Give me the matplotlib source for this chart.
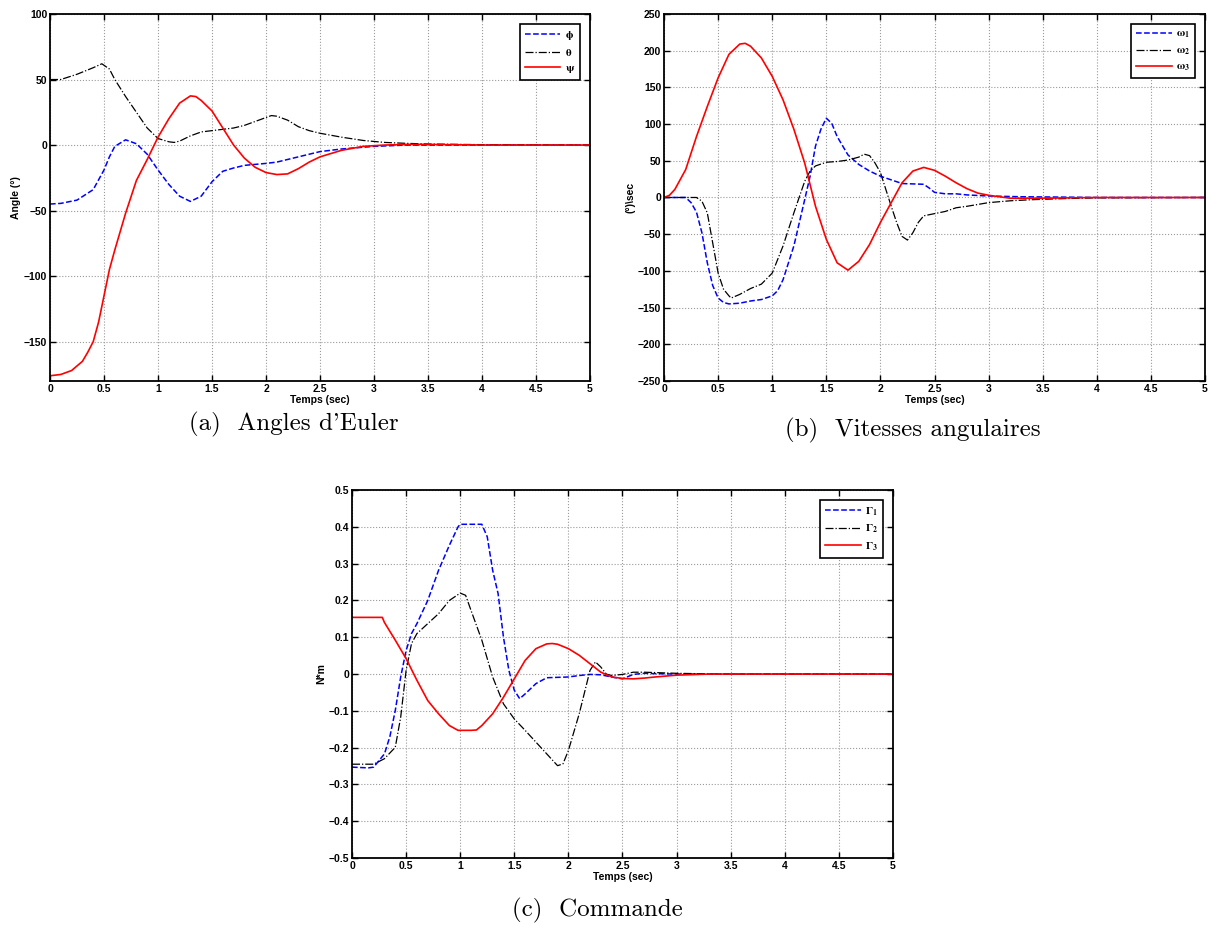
import numpy as np
import matplotlib.pyplot as plt

plt.rcParams['font.family'] = ['Liberation Sans', 'DejaVu Sans']
plt.rcParams['font.weight'] = 'bold'
plt.rcParams['mathtext.fontset'] = 'stix'

# (a) angles d'Euler
t_phi = [0, 0.1, 0.25, 0.4, 0.5, 0.55, 0.6, 0.7, 0.8, 0.9, 1.0, 1.1, 1.2, 1.3, 1.4, 1.5,
         1.6, 1.7, 1.8, 2.0, 2.1, 2.3, 2.5, 2.7, 3.0, 3.3, 5]
phi = [-45, -44.5, -42, -34, -19, -9, -1, 4, 1, -7, -19, -30, -39, -43, -39, -28,
       -20, -17.5, -15.5, -14, -13, -9, -5, -3, -1, 0, 0]
t_theta = [0, 0.1, 0.25, 0.4, 0.48, 0.55, 0.6, 0.7, 0.8, 0.9, 1.0, 1.1, 1.15, 1.2, 1.3,
           1.4, 1.5, 1.7, 1.8, 1.9, 2.05, 2.1, 2.2, 2.3, 2.4, 2.5, 2.7, 2.9, 3.1, 3.3,
           3.5, 4.0, 5]
theta = [50, 50, 54, 59, 62, 58, 50, 37, 25, 13, 5, 2.5, 2, 3, 7,
         10, 11, 13, 15, 18, 22.5, 22, 19, 14, 11, 9, 6, 3.5, 2, 1.3,
         0.8, 0.3, 0]
t_psi = [0, 0.1, 0.2, 0.3, 0.35, 0.4, 0.45, 0.5, 0.55, 0.6, 0.7, 0.8, 0.9, 1.0, 1.1,
         1.2, 1.3, 1.35, 1.4, 1.5, 1.6, 1.7, 1.8, 1.9, 2.0, 2.1, 2.2, 2.3, 2.4, 2.5,
         2.7, 2.9, 3.1, 3.3, 3.5, 4.0, 5]
psi = [-176, -175, -172, -165, -158, -150, -135, -115, -95, -80, -52, -27, -11, 6, 20,
       32, 37.5, 37, 34, 26, 13, 0, -10, -17, -21, -22.5, -22, -18, -13, -9,
       -4, -1, 0, 0.5, 0.5, 0, 0]

# (b) vitesses angulaires
t_w1 = [0, 0.2, 0.25, 0.3, 0.35, 0.4, 0.45, 0.5, 0.55, 0.6, 0.7, 0.8, 0.9, 1.0, 1.05,
        1.1, 1.2, 1.3, 1.35, 1.4, 1.45, 1.5, 1.55, 1.6, 1.7, 1.8, 1.9, 2.0, 2.1, 2.2,
        2.3, 2.4, 2.45, 2.5, 2.6, 2.7, 2.8, 3.0, 3.3, 3.7, 4.0, 5]
w1 = [0, 0, -7, -20, -48, -89, -120, -137, -143, -145, -144, -141, -139, -134, -127,
      -112, -66, -3, 29, 70, 93, 108, 101, 83, 58, 45, 36, 29, 24, 19,
      18.5, 18, 13, 7, 5, 5, 3.5, 2, 1, 0.5, 0, 0]
t_w2 = [0, 0.3, 0.35, 0.4, 0.45, 0.5, 0.55, 0.6, 0.62, 0.7, 0.8, 0.9, 1.0, 1.1, 1.2,
        1.3, 1.35, 1.4, 1.5, 1.6, 1.7, 1.8, 1.85, 1.9, 1.95, 2.0, 2.05, 2.1, 2.15, 2.2,
        2.25, 2.3, 2.35, 2.4, 2.5, 2.6, 2.7, 2.8, 3.0, 3.2, 3.4, 3.7, 4.0, 5]
w2 = [0, 0, -5, -21, -62, -103, -125, -134, -137, -132, -124, -118, -103, -66, -21,
      22, 36, 43, 48, 49, 51, 55, 59, 57, 47, 34, 11, -12, -34, -53,
      -58, -48, -34, -25, -22, -19, -14, -12, -7, -4.5, -3, -1.5, -0.5, 0]
t_w3 = [0, 0.05, 0.1, 0.2, 0.3, 0.4, 0.5, 0.6, 0.7, 0.75, 0.8, 0.9, 1.0, 1.1, 1.2, 1.3,
        1.4, 1.5, 1.6, 1.7, 1.8, 1.9, 2.0, 2.1, 2.2, 2.3, 2.4, 2.5, 2.6, 2.7, 2.8,
        2.9, 3.0, 3.2, 3.5, 4.0, 5]
w3 = [0, 3, 11, 38, 83, 124, 163, 195, 209, 210, 206, 190, 165, 133, 93, 47,
      -12, -57, -89, -99, -87, -64, -34, -7, 20, 36, 41, 37, 29, 20, 12,
      6, 3, -1, -1, 0, 0]

# (c) commande
t_g1 = [0, 0.15, 0.2, 0.3, 0.35, 0.4, 0.45, 0.5, 0.55, 0.6, 0.7, 0.8, 0.9, 0.98, 1.0,
        1.2, 1.25, 1.3, 1.35, 1.4, 1.45, 1.5, 1.55, 1.6, 1.7, 1.8, 2.0, 2.1, 2.2, 2.3,
        2.4, 2.5, 2.6, 2.7, 2.8, 3.0, 5]
g1 = [-0.253, -0.255, -0.253, -0.217, -0.17, -0.099, -0.008, 0.064, 0.11, 0.137, 0.2,
      0.282, 0.35, 0.4, 0.407, 0.407, 0.373, 0.282, 0.219, 0.1, 0.01, -0.044, -0.067,
      -0.054, -0.026, -0.01, -0.008, -0.004, -0.001, -0.002, -0.008, -0.013, -0.001,
      0.002, 0.001, 0, 0]
t_g2 = [0, 0.2, 0.3, 0.4, 0.45, 0.5, 0.55, 0.6, 0.7, 0.8, 0.9, 1.0, 1.05, 1.1, 1.2,
        1.3, 1.4, 1.5, 1.6, 1.7, 1.8, 1.9, 1.95, 2.0, 2.1, 2.2, 2.25, 2.3, 2.35, 2.4,
        2.5, 2.6, 2.7, 2.8, 3.0, 3.2, 3.5, 5]
g2 = [-0.245, -0.245, -0.23, -0.199, -0.117, 0.01, 0.083, 0.11, 0.137, 0.164, 0.2,
      0.22, 0.214, 0.173, 0.092, -0.008, -0.081, -0.122, -0.153, -0.185, -0.217,
      -0.249, -0.244, -0.208, -0.108, 0.01, 0.033, 0.019, 0, -0.004, -0.001, 0.005,
      0.005, 0.004, 0.002, 0.001, 0, 0]
t_g3 = [0, 0.28, 0.3, 0.4, 0.5, 0.6, 0.7, 0.8, 0.9, 0.98, 1.1, 1.15, 1.2, 1.3, 1.4,
        1.5, 1.6, 1.7, 1.8, 1.85, 1.9, 2.0, 2.1, 2.2, 2.3, 2.4, 2.5, 2.6, 2.7, 2.8,
        3.0, 3.3, 5]
g3 = [0.154, 0.154, 0.14, 0.092, 0.042, -0.017, -0.072, -0.108, -0.14, -0.153, -0.153,
      -0.152, -0.14, -0.108, -0.063, -0.013, 0.037, 0.069, 0.082, 0.083, 0.081, 0.069,
      0.051, 0.028, 0.005, -0.008, -0.012, -0.013, -0.011, -0.008, -0.003, 0, 0]

xticks = np.arange(0, 5.01, 0.5)
xticklabels = ['0', '0.5', '1', '1.5', '2', '2.5', '3', '3.5', '4', '4.5', '5']


def style_axes(ax, ylim, yticks, ylabel):
    ax.set_xlim(0, 5)
    ax.set_ylim(*ylim)
    ax.set_xticks(xticks)
    ax.set_xticklabels(xticklabels)
    ax.set_yticks(yticks)
    ax.grid(True, linestyle=':', color='#9a9a9a', linewidth=0.8)
    ax.tick_params(direction='in', top=True, right=True, length=4, width=1,
                   labelsize=7.5, pad=2)
    for lab in ax.get_xticklabels() + ax.get_yticklabels():
        lab.set_fontweight('bold')
    for sp in ax.spines.values():
        sp.set_linewidth(1.3)
    ax.set_xlabel('Temps (sec)', fontsize=7.5, fontweight='bold', labelpad=1)
    ax.set_ylabel(ylabel, fontsize=7.5, fontweight='bold', labelpad=2)


def add_legend(ax):
    leg = ax.legend(loc='upper right', fontsize=8, handlelength=3.2, fancybox=False,
                    edgecolor='black', framealpha=1, borderaxespad=0.9,
                    labelspacing=0.45, handletextpad=0.4, borderpad=0.45)
    leg.get_frame().set_linewidth(1.2)


fig = plt.figure(figsize=(12.08, 9.25), dpi=100)

ax1 = fig.add_axes([0.0414, 0.5881, 0.447, 0.3968])
ax1.plot(t_phi, phi, '--', color='blue', lw=1.1, label=r'$\mathrm{\phi}$')
ax1.plot(t_theta, theta, '-.', color='black', lw=0.9, label=r'$\mathrm{\theta}$')
ax1.plot(t_psi, psi, '-', color='red', lw=1.2, label=r'$\mathrm{\psi}$')
style_axes(ax1, (-180, 100), [-150, -100, -50, 0, 50, 100], 'Angle (°)')
add_legend(ax1)

ax2 = fig.add_axes([0.5497, 0.5881, 0.4478, 0.3968])
ax2.plot(t_w1, w1, '--', color='blue', lw=1.1, label=r'$\mathrm{\omega_1}$')
ax2.plot(t_w2, w2, '-.', color='black', lw=0.9, label=r'$\mathrm{\omega_2}$')
ax2.plot(t_w3, w3, '-', color='red', lw=1.2, label=r'$\mathrm{\omega_3}$')
style_axes(ax2, (-250, 250), np.arange(-250, 251, 50), '(°)\\sec')
add_legend(ax2)

ax3 = fig.add_axes([0.2914, 0.0724, 0.4478, 0.3978])
ax3.plot(t_g1, g1, '--', color='blue', lw=1.1, label=r'$\Gamma_1$')
ax3.plot(t_g2, g2, '-.', color='black', lw=0.9, label=r'$\Gamma_2$')
ax3.plot(t_g3, g3, '-', color='red', lw=1.2, label=r'$\Gamma_3$')
style_axes(ax3, (-0.5, 0.5), np.round(np.arange(-0.5, 0.51, 0.1), 1), 'N*m')
ax3.set_yticklabels(['−0.5', '−0.4', '−0.3', '−0.2', '−0.1', '0', '0.1', '0.2',
                     '0.3', '0.4', '0.5'], fontweight='bold')
add_legend(ax3)

cap = dict(fontsize=18, family=['cmr10', 'DejaVu Serif'], ha='center', va='center',
           fontweight='normal')
fig.text(294 / 1208, 1 - 424 / 925, "(a)  Angles d'Euler", **cap)
fig.text(913 / 1208, 1 - 430 / 925, "(b)  Vitesses angulaires", **cap)
fig.text(597 / 1208, 1 - 910 / 925, "(c)  Commande", **cap)

fig.savefig('out.png', dpi=100)
